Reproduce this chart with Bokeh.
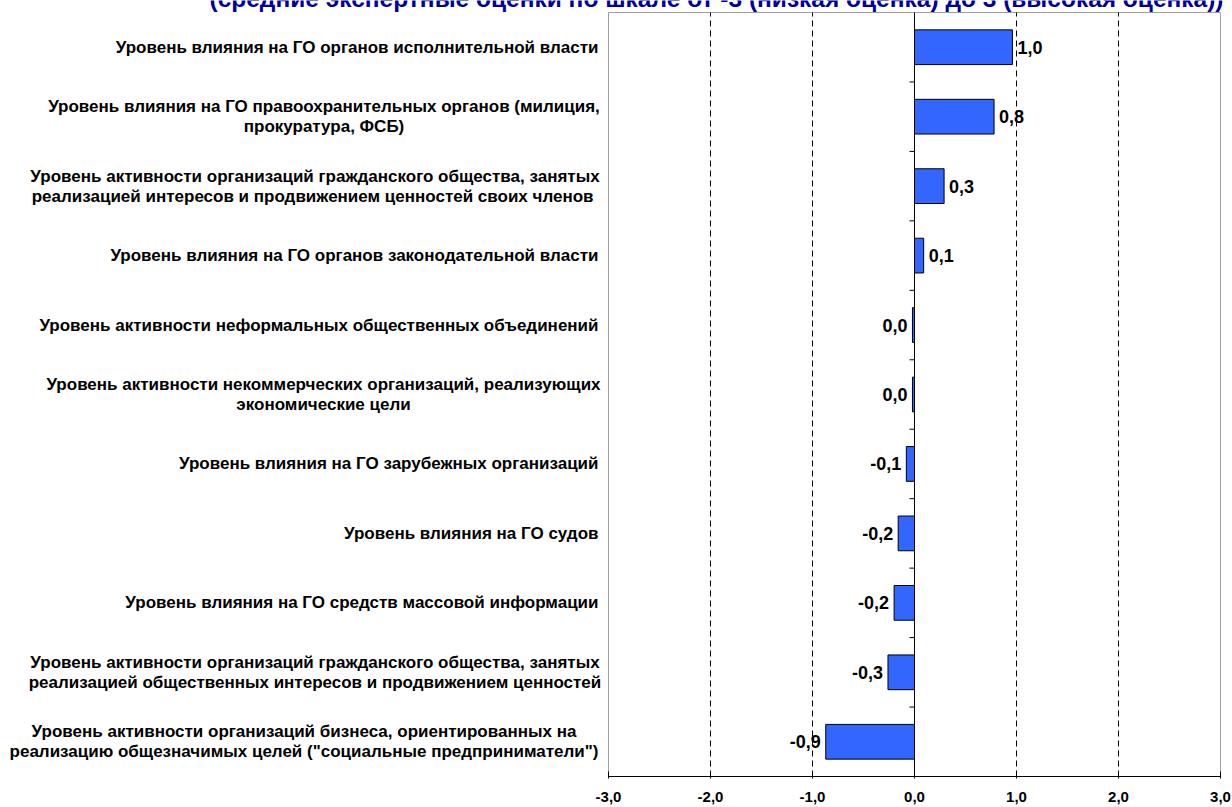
from bokeh.plotting import figure
from bokeh.models import ColumnDataSource, FixedTicker, Range1d
from bokeh.core.properties import value
from bokeh.embed import file_html
from bokeh.resources import INLINE

# ---------------- data ----------------
categories = [
    "Уровень влияния на ГО органов исполнительной власти",
    "Уровень влияния на ГО правоохранительных органов (милиция,\nпрокуратура, ФСБ)",
    "Уровень активности организаций гражданского общества, занятых\nреализацией интересов и продвижением ценностей своих членов ",
    "Уровень влияния на ГО органов законодательной власти",
    "Уровень активности неформальных общественных объединений",
    "Уровень активности некоммерческих организаций, реализующих\nэкономические цели",
    "Уровень влияния на ГО зарубежных организаций",
    "Уровень влияния на ГО судов",
    "Уровень влияния на ГО средств массовой информации",
    "Уровень активности организаций гражданского общества, занятых\nреализацией общественных интересов и продвижением ценностей",
    "Уровень активности организаций бизнеса, ориентированных на\nреализацию общезначимых целей (\"социальные предприниматели\")",
]
values = [0.96, 0.78, 0.29, 0.09, -0.02, -0.02, -0.08, -0.16, -0.20, -0.26, -0.87]
value_labels = ["1,0", "0,8", "0,3", "0,1", "0,0", "0,0", "-0,1", "-0,2", "-0,2", "-0,3", "-0,9"]
x_ticks = [-3, -2, -1, 0, 1, 2, 3]
x_tick_labels = ["-3,0", "-2,0", "-1,0", "0,0", "1,0", "2,0", "3,0"]
grid_ticks = [-2, -1, 1, 2]
title_text = "(средние экспертные оценки по шкале от -3 (низкая оценка) до 3 (высокая оценка))"

# ---------------- layout ----------------
FONT = "Liberation Sans"
W, H = 1232, 807
PLOT_L, PLOT_R, PLOT_T, PLOT_B = 608, 1220, 12, 776   # plot box in px
RIGHT_PAD = 4
n = len(categories)
xs_per_px = (x_ticks[-1] - x_ticks[0]) / (PLOT_R - PLOT_L)
ys_per_px = n / (PLOT_B - PLOT_T)
ys = [n - i - 0.5 for i in range(n)]
block_w = {1: 549, 2: 567, 5: 550, 9: 567, 10: 589}   # px width of wrapped label blocks

p = figure(width=W, height=H, output_backend="svg", toolbar_location=None,
           x_range=Range1d(x_ticks[0] - PLOT_L * xs_per_px, x_ticks[-1] + RIGHT_PAD * xs_per_px),
           y_range=Range1d(0, n + PLOT_T * ys_per_px),
           y_axis_location=None,
           min_border_left=0, min_border_right=W - PLOT_R - RIGHT_PAD,
           min_border_top=0, min_border_bottom=H - PLOT_B)
p.outline_line_color = None
p.background_fill_color = "white"
p.border_fill_color = "white"
p.grid.visible = False

# bottom axis
ax = p.xaxis[0]
ax.bounds = (x_ticks[0], x_ticks[-1])
ax.ticker = FixedTicker(ticks=x_ticks)
ax.major_label_overrides = {t: l for t, l in zip(x_ticks, x_tick_labels)}
ax.major_label_text_font = FONT
ax.major_label_text_font_style = "bold"
ax.major_label_text_font_size = "15px"
ax.major_label_text_color = "black"
ax.major_label_standoff = 13
ax.axis_line_color = "black"
ax.major_tick_line_color = "black"
ax.major_tick_in = 5
ax.major_tick_out = 2
ax.minor_tick_line_color = None

# plot box (grey)
p.quad(left=[x_ticks[0]], right=[x_ticks[-1]], bottom=[0], top=[n],
       fill_color=None, line_color="#a0a0a0", line_width=1)

# dashed grid lines
p.segment(x0=grid_ticks, x1=grid_ticks, y0=[0] * len(grid_ticks), y1=[n] * len(grid_ticks),
          line_color="black", line_dash="6 4", line_width=1)

# bars
src = ColumnDataSource(dict(y=ys, v=values, lab=value_labels))
p.hbar(y="y", left=0, right="v", height=0.5, source=src,
       fill_color="#3366FF", line_color="black", line_width=1)

# zero line with boundary ticks
p.segment(x0=[0], x1=[0], y0=[0], y1=[n], line_color="black", line_width=1)
bounds_y = list(range(1, n))
p.ray(x=[0] * len(bounds_y), y=bounds_y, length=5, length_units="screen",
      angle=180, angle_units="deg", line_color="black", line_width=1)

# value labels
pos = [i for i in range(n) if values[i] >= 0]
neg = [i for i in range(n) if values[i] < 0]
for idx, align, off in ((pos, "left", 5), (neg, "right", -5)):
    s = ColumnDataSource(dict(x=[values[i] for i in idx], y=[ys[i] for i in idx],
                              t=[value_labels[i] for i in idx]))
    p.text(x="x", y="y", text="t", source=s, x_offset=off, text_align=align,
           text_baseline="middle", text_font=value(FONT), text_font_style="bold",
           text_font_size="18px", text_color="black")

# category labels
cx, cy, ct, cxo, cyo, ca = [], [], [], [], [], []
for i, cat in enumerate(categories):
    lines = cat.split("\n")
    if len(lines) == 1:
        cx.append(x_ticks[0]); cy.append(ys[i]); ct.append(lines[0])
        cxo.append(-10); cyo.append(0); ca.append("right")
    else:
        for j, ln in enumerate(lines):
            cx.append(x_ticks[0]); cy.append(ys[i]); ct.append(ln)
            cxo.append(-(10 + block_w[i] / 2)); cyo.append(-10 if j == 0 else 10)
            ca.append("center")
csrc = ColumnDataSource(dict(x=cx, y=cy, t=ct, xo=cxo, yo=cyo, a=ca))
p.text(x="x", y="y", text="t", x_offset="xo", y_offset="yo", text_align="a", source=csrc,
       text_baseline="middle", text_font=value(FONT), text_font_style="bold",
       text_font_size="17px", text_color="black")

# title (cut at the top edge as in the source)
p.text(x=[x_ticks[0]], y=[n], text=[title_text], x_offset=108, y_offset=-14,
       text_align="center", text_baseline="middle", text_font=value(FONT),
       text_font_style="bold", text_font_size="24.5px", text_color="#000099")

open("out.html", "w").write(file_html(p, INLINE))
